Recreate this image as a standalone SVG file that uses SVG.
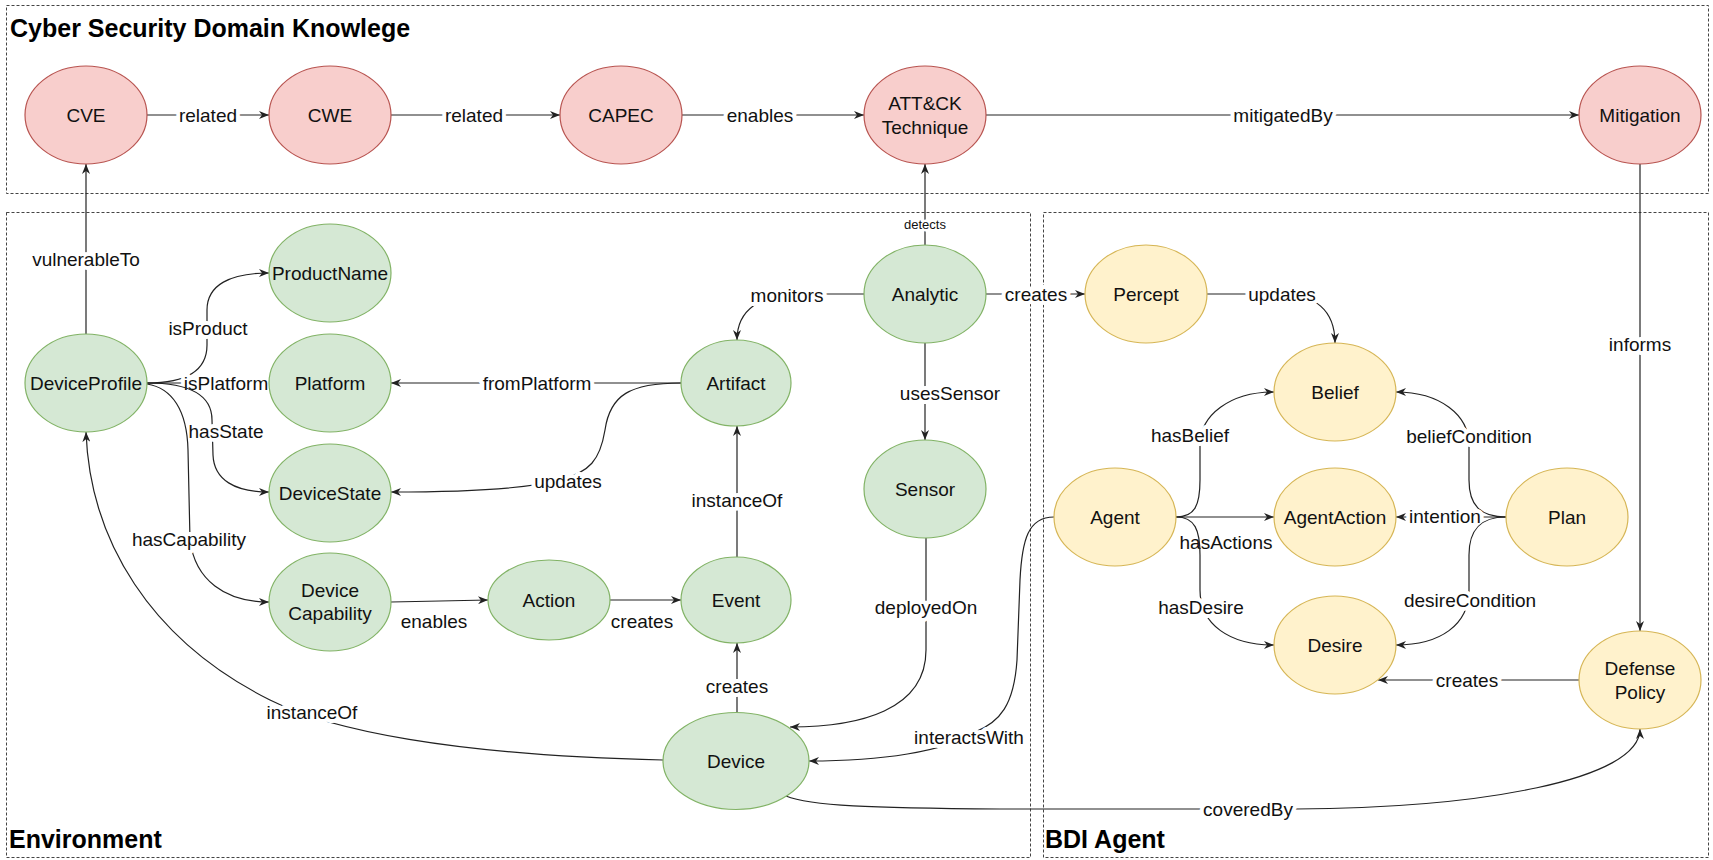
<svg xmlns="http://www.w3.org/2000/svg" width="1713" height="860" viewBox="0 0 1713 860">
  <style>
    .frame { fill: none; stroke: #444; stroke-width: 1; stroke-dasharray: 3 2; }
    .title { font-family: "Liberation Sans", Arial, sans-serif; font-size: 25px; font-weight: bold; fill: #000; }
    .red { fill: #f8cecc; stroke: #b85450; stroke-width: 1.2; }
    .green { fill: #d5e8d4; stroke: #82b366; stroke-width: 1.2; }
    .yellow { fill: #fff2cc; stroke: #d6b656; stroke-width: 1.2; }
    .nt { font-family: "Liberation Sans", Arial, sans-serif; font-size: 19px; fill: #111; text-anchor: middle; }
    .edge { fill: none; stroke: #222; stroke-width: 1.2; marker-end: url(#arrow); }
    .lbl { font-family: "Liberation Sans", Arial, sans-serif; font-size: 19px; fill: #111; text-anchor: middle;
           stroke: #fff; stroke-width: 8; stroke-linejoin: round; paint-order: stroke; }
    .small { font-size: 13px; stroke-width: 5; }
  </style>
  <defs>
    <marker id="arrow" viewBox="0 0 10 8" refX="10" refY="4" markerWidth="10" markerHeight="8" markerUnits="userSpaceOnUse" orient="auto">
      <path d="M0,0 L10,4 L0,8 L3,4 Z" fill="#222"/>
    </marker>
  </defs>

  <rect width="1713" height="860" fill="#fff"/>

  <!-- swimlane frames -->
  <g id="frames">
    <rect class="frame" x="6.5" y="5.5" width="1702" height="188"/>
    <rect class="frame" x="6.5" y="212.5" width="1024" height="645"/>
    <rect class="frame" x="1043.5" y="212.5" width="665" height="645"/>
    <text class="title" x="10" y="37">Cyber Security Domain Knowlege</text>
    <text class="title" x="9" y="848">Environment</text>
    <text class="title" x="1045" y="848">BDI Agent</text>
  </g>

  <!-- relations -->
  <g id="connectors">
    <path class="edge" d="M147,115 L269,115"/>
    <text class="lbl" x="208" y="122">related</text>
    <path class="edge" d="M391,115 L560,115"/>
    <text class="lbl" x="474" y="122">related</text>
    <path class="edge" d="M682,115 L864,115"/>
    <text class="lbl" x="760" y="122">enables</text>
    <path class="edge" d="M986,115 L1579,115"/>
    <text class="lbl" x="1283" y="122">mitigatedBy</text>

    <path class="edge" d="M86,334 L86,164"/>
    <text class="lbl" x="86" y="266">vulnerableTo</text>
    <path class="edge" d="M925,245 L925,164"/>
    <text class="lbl small" x="925" y="229">detects</text>
    <path class="edge" d="M1640,164 L1640,631"/>
    <text class="lbl" x="1640" y="351">informs</text>

    <path class="edge" d="M147,383 C180,383 207,375 207,345 L207,310 C207,285 230,273 269,273"/>
    <text class="lbl" x="208" y="335">isProduct</text>
    <path class="edge" d="M147,383 L269,383"/>
    <text class="lbl" x="226" y="390">isPlatform</text>
    <path class="edge" d="M147,383 C185,383 212,392 212,420 L213,455 C214,480 235,492 269,492"/>
    <text class="lbl" x="226" y="438">hasState</text>
    <path class="edge" d="M147,384 C172,388 187,410 188,450 L190,540 C195,580 225,602 269,602"/>
    <text class="lbl" x="189" y="546">hasCapability</text>
    <path class="edge" d="M663,760 C450,755 330,730 270,700 C150,640 90,540 86,432"/>
    <text class="lbl" x="312" y="719">instanceOf</text>

    <path class="edge" d="M681,383 L391,383"/>
    <text class="lbl" x="537" y="390">fromPlatform</text>
    <path class="edge" d="M681,383 C630,383 610,395 605,430 C600,460 590,472 560,480 C530,488 470,492 391,492"/>
    <text class="lbl" x="568" y="488">updates</text>
    <path class="edge" d="M864,294 L800,294 C760,294 737,310 737,340"/>
    <text class="lbl" x="787" y="302">monitors</text>
    <path class="edge" d="M925,343 L925,440"/>
    <text class="lbl" x="950" y="400">usesSensor</text>
    <path class="edge" d="M986,294 L1085,294"/>
    <text class="lbl" x="1036" y="301">creates</text>

    <path class="edge" d="M737,557 L737,426"/>
    <text class="lbl" x="737" y="507">instanceOf</text>
    <path class="edge" d="M737,712 L737,643"/>
    <text class="lbl" x="737" y="693">creates</text>
    <path class="edge" d="M610,600 L681,600"/>
    <text class="lbl" x="642" y="628">creates</text>
    <path class="edge" d="M391,602 L440,601 L488,600"/>
    <text class="lbl" x="434" y="628">enables</text>
    <path class="edge" d="M926,538 L926,650 C926,710 860,727 790,727"/>
    <text class="lbl" x="926" y="614">deployedOn</text>
    <path class="edge" d="M1054,517 C1028,517 1022,540 1020,580 L1017,660 C1014,705 1000,722 975,732 C945,752 880,761 809,761"/>
    <text class="lbl" x="969" y="744">interactsWith</text>
    <path class="edge" d="M786,796 C810,806 870,808 1000,809 L1296,809 C1480,808 1640,780 1640,729"/>
    <text class="lbl" x="1248" y="816">coveredBy</text>

    <path class="edge" d="M1207,294 L1280,294 C1315,294 1335,310 1335,343"/>
    <text class="lbl" x="1282" y="301">updates</text>
    <path class="edge" d="M1176,517 C1195,517 1200,505 1200,480 L1200,445 C1200,415 1230,392 1274,392"/>
    <text class="lbl" x="1190" y="442">hasBelief</text>
    <path class="edge" d="M1176,517 L1274,517"/>
    <text class="lbl" x="1226" y="549">hasActions</text>
    <path class="edge" d="M1176,517 C1195,517 1200,530 1200,555 L1200,590 C1200,625 1230,645 1274,645"/>
    <text class="lbl" x="1201" y="614">hasDesire</text>
    <path class="edge" d="M1506,517 C1480,517 1469,505 1469,480 L1469,445 C1469,415 1440,392 1396,392"/>
    <text class="lbl" x="1469" y="443">beliefCondition</text>
    <path class="edge" d="M1506,517 L1396,517"/>
    <text class="lbl" x="1445" y="523">intention</text>
    <path class="edge" d="M1506,517 C1480,517 1469,530 1469,555 L1469,590 C1469,625 1440,645 1396,645"/>
    <text class="lbl" x="1470" y="607">desireCondition</text>
    <path class="edge" d="M1579,680 L1378,680"/>
    <text class="lbl" x="1467" y="687">creates</text>
  </g>

  <!-- domain knowledge -->
  <g id="cve"><ellipse class="red" cx="86" cy="115" rx="61" ry="49"/><text class="nt" x="86" y="122">CVE</text></g>
  <g id="cwe"><ellipse class="red" cx="330" cy="115" rx="61" ry="49"/><text class="nt" x="330" y="122">CWE</text></g>
  <g id="capec"><ellipse class="red" cx="621" cy="115" rx="61" ry="49"/><text class="nt" x="621" y="122">CAPEC</text></g>
  <g id="attack"><ellipse class="red" cx="925" cy="115" rx="61" ry="49"/><text class="nt" x="925" y="110">ATT&amp;CK</text><text class="nt" x="925" y="134">Technique</text></g>
  <g id="mitigation"><ellipse class="red" cx="1640" cy="115" rx="61" ry="49"/><text class="nt" x="1640" y="122">Mitigation</text></g>

  <!-- environment -->
  <g id="productname"><ellipse class="green" cx="330" cy="273" rx="61" ry="49"/><text class="nt" x="330" y="280">ProductName</text></g>
  <g id="deviceprofile"><ellipse class="green" cx="86" cy="383" rx="61" ry="49"/><text class="nt" x="86" y="390">DeviceProfile</text></g>
  <g id="platform"><ellipse class="green" cx="330" cy="383" rx="61" ry="49"/><text class="nt" x="330" y="390">Platform</text></g>
  <g id="devicestate"><ellipse class="green" cx="330" cy="493" rx="61" ry="49"/><text class="nt" x="330" y="500">DeviceState</text></g>
  <g id="devicecapability"><ellipse class="green" cx="330" cy="602" rx="61" ry="49"/><text class="nt" x="330" y="597">Device</text><text class="nt" x="330" y="620">Capability</text></g>
  <g id="action"><ellipse class="green" cx="549" cy="600" rx="61" ry="40"/><text class="nt" x="549" y="607">Action</text></g>
  <g id="artifact"><ellipse class="green" cx="736" cy="383" rx="55" ry="43"/><text class="nt" x="736" y="390">Artifact</text></g>
  <g id="event"><ellipse class="green" cx="736" cy="600" rx="55" ry="43"/><text class="nt" x="736" y="607">Event</text></g>
  <g id="device"><ellipse class="green" cx="736" cy="761" rx="73" ry="48.5"/><text class="nt" x="736" y="768">Device</text></g>
  <g id="analytic"><ellipse class="green" cx="925" cy="294" rx="61" ry="49"/><text class="nt" x="925" y="301">Analytic</text></g>
  <g id="sensor"><ellipse class="green" cx="925" cy="489" rx="61" ry="49"/><text class="nt" x="925" y="496">Sensor</text></g>

  <!-- agent -->
  <g id="percept"><ellipse class="yellow" cx="1146" cy="294" rx="61" ry="49"/><text class="nt" x="1146" y="301">Percept</text></g>
  <g id="belief"><ellipse class="yellow" cx="1335" cy="392" rx="61" ry="49"/><text class="nt" x="1335" y="399">Belief</text></g>
  <g id="agent"><ellipse class="yellow" cx="1115" cy="517" rx="61" ry="49"/><text class="nt" x="1115" y="524">Agent</text></g>
  <g id="agentaction"><ellipse class="yellow" cx="1335" cy="517" rx="61" ry="49"/><text class="nt" x="1335" y="524">AgentAction</text></g>
  <g id="plan"><ellipse class="yellow" cx="1567" cy="517" rx="61" ry="49"/><text class="nt" x="1567" y="524">Plan</text></g>
  <g id="desire"><ellipse class="yellow" cx="1335" cy="645" rx="61" ry="49"/><text class="nt" x="1335" y="652">Desire</text></g>
  <g id="defensepolicy"><ellipse class="yellow" cx="1640" cy="680" rx="61" ry="49"/><text class="nt" x="1640" y="675">Defense</text><text class="nt" x="1640" y="699">Policy</text></g>
</svg>
